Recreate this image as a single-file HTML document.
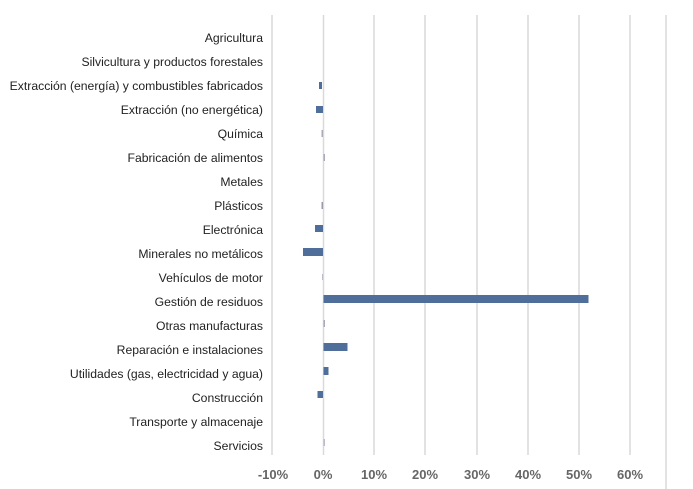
<!DOCTYPE html>
<html><head><meta charset="utf-8"><style>
body{margin:0;background:#fff;width:693px;height:489px;overflow:hidden}
svg{display:block}
text{font-family:"Liberation Sans",sans-serif}
</style></head><body>
<svg width="693" height="489" viewBox="0 0 693 489">
<g stroke="#d9d9d9" stroke-width="1.5">
<line x1="272" y1="15" x2="272" y2="455"/><line x1="323.5" y1="15" x2="323.5" y2="455"/>
<line x1="374" y1="15" x2="374" y2="455"/><line x1="425" y1="15" x2="425" y2="455"/>
<line x1="477" y1="15" x2="477" y2="455"/><line x1="528" y1="15" x2="528" y2="455"/>
<line x1="579" y1="15" x2="579" y2="455"/><line x1="630" y1="15" x2="630" y2="455"/>
<line x1="666" y1="15" x2="666" y2="489"/>
</g>
<g font-size="12.2" fill="#222" text-anchor="end">
<text x="263" y="42">Agricultura</text>
<text x="263" y="66">Silvicultura y productos forestales</text>
<text x="263" y="90">Extracción (energía) y combustibles fabricados</text>
<text x="263" y="114">Extracción (no energética)</text>
<text x="263" y="138">Química</text>
<text x="263" y="162">Fabricación de alimentos</text>
<text x="263" y="186">Metales</text>
<text x="263" y="210">Plásticos</text>
<text x="263" y="234">Electrónica</text>
<text x="263" y="258">Minerales no metálicos</text>
<text x="263" y="282">Vehículos de motor</text>
<text x="263" y="306">Gestión de residuos</text>
<text x="263" y="330">Otras manufacturas</text>
<text x="263" y="354">Reparación e instalaciones</text>
<text x="263" y="378">Utilidades (gas, electricidad y agua)</text>
<text x="263" y="402">Construcción</text>
<text x="263" y="426">Transporte y almacenaje</text>
<text x="263" y="450">Servicios</text>
</g>
<g fill="#4f6f9a">
<rect x="319" y="82" width="3" height="7"/>
<rect x="316" y="106" width="7" height="7"/>
<rect x="321.5" y="130" width="1.5" height="7" fill="#aab"/>
<rect x="323.5" y="154" width="1.5" height="7" fill="#aab"/>
<rect x="321.5" y="202" width="1.5" height="7" fill="#99a"/>
<rect x="315" y="225" width="8" height="7"/>
<rect x="303" y="248" width="20" height="8"/>
<rect x="322" y="274" width="1" height="6" fill="#bbc"/>
<rect x="323.5" y="295" width="265" height="8"/>
<rect x="323.5" y="320" width="1.5" height="7" fill="#aab"/>
<rect x="323.5" y="343" width="24" height="8"/>
<rect x="323.5" y="367" width="5" height="8"/>
<rect x="317.5" y="391" width="5.5" height="7"/>
<rect x="323.5" y="439" width="1.5" height="7" fill="#bbc"/>
</g>
<g font-size="13" font-weight="bold" fill="#666" text-anchor="middle">
<text x="273" y="479">-10%</text><text x="323" y="479">0%</text>
<text x="374" y="479">10%</text><text x="425" y="479">20%</text>
<text x="477" y="479">30%</text><text x="528" y="479">40%</text>
<text x="579" y="479">50%</text><text x="630" y="479">60%</text>
</g>
</svg>
</body></html>
